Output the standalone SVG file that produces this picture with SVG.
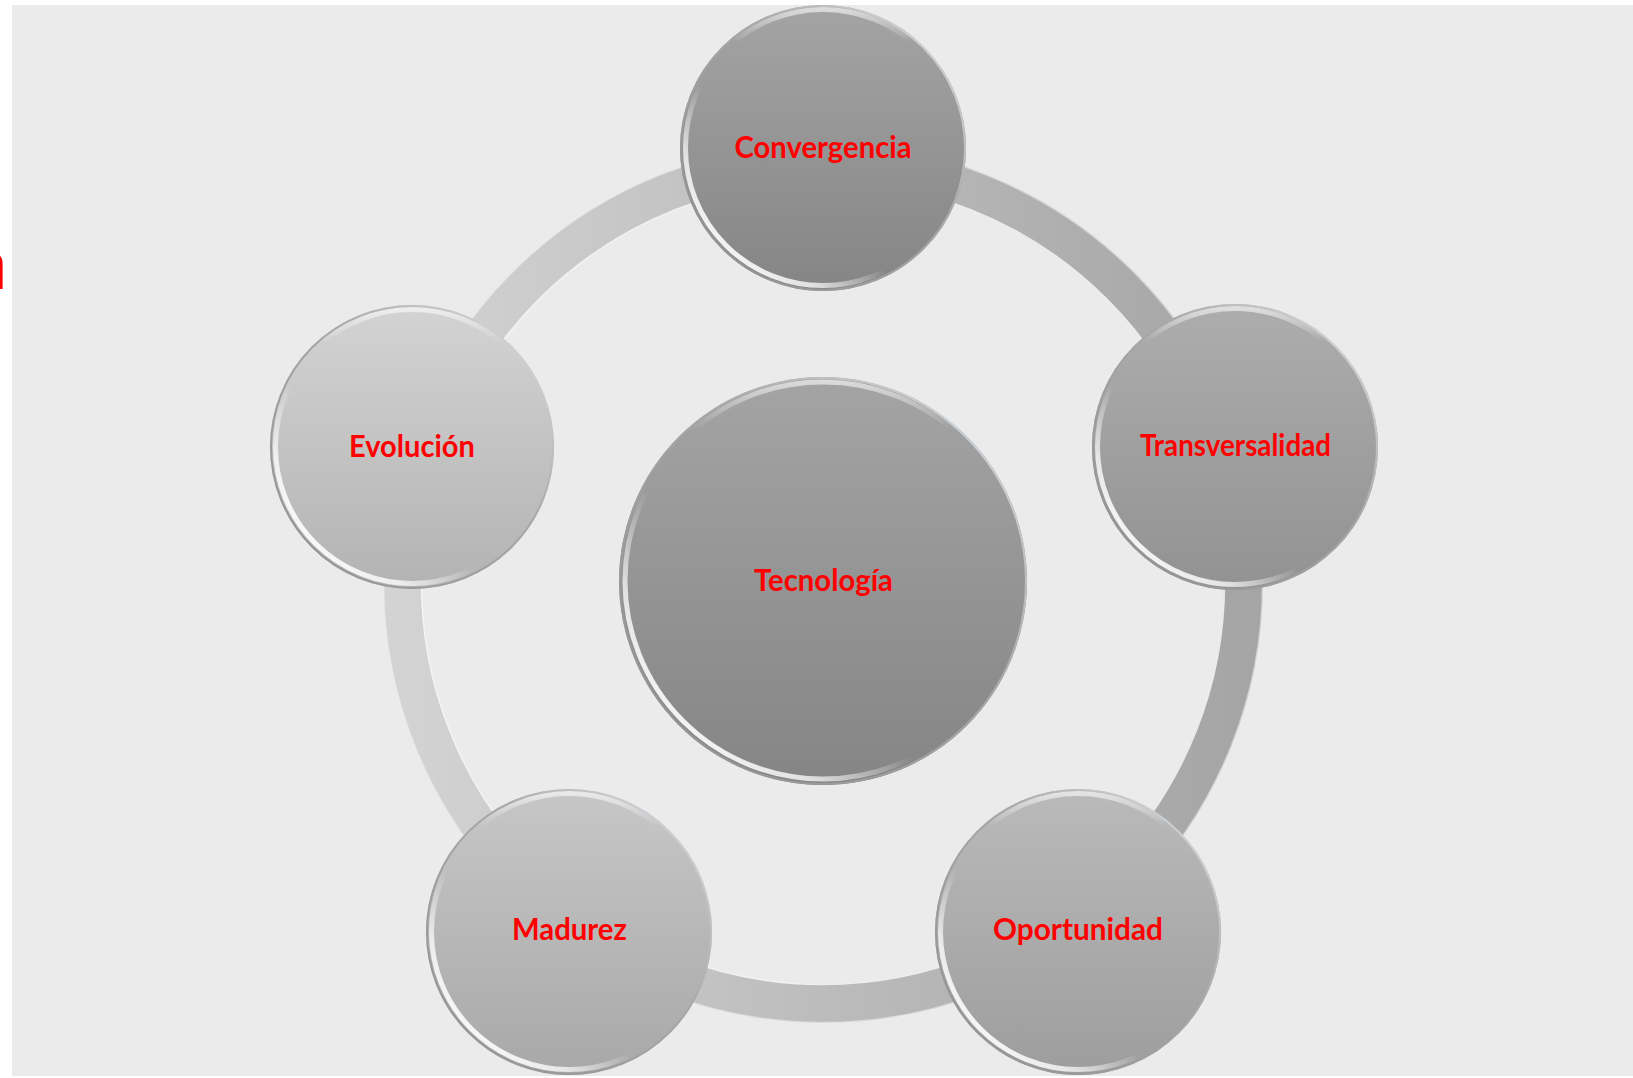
<svg xmlns="http://www.w3.org/2000/svg" width="1633" height="1078" viewBox="0 0 1633 1078">
<style>
.lbl{font-family:Lato,"Open Sans","Liberation Sans",sans-serif;font-weight:bold;font-size:30px;fill:#ff0000;text-anchor:middle}
.rimOut{fill:none;stroke:url(#edge);stroke-width:2}
.rimHi{fill:none;stroke:url(#hi);stroke-width:5}
.rimTop{fill:none;stroke:url(#hiTop);stroke-width:5}
</style>
<defs>
<linearGradient id="ringG" x1="0" y1="0" x2="1" y2="0">
<stop offset="0" stop-color="#d3d3d3"/><stop offset="1" stop-color="#a5a5a5"/>
</linearGradient>
<linearGradient id="gDark" x1="0" y1="0" x2="0" y2="1">
<stop offset="0" stop-color="#a4a4a4"/><stop offset="1" stop-color="#858585"/>
</linearGradient>
<linearGradient id="gTrans" x1="0" y1="0" x2="0" y2="1">
<stop offset="0" stop-color="#adadad"/><stop offset="1" stop-color="#929292"/>
</linearGradient>
<linearGradient id="gEvo" x1="0" y1="0" x2="0" y2="1">
<stop offset="0" stop-color="#d3d3d3"/><stop offset="1" stop-color="#b3b3b3"/>
</linearGradient>
<linearGradient id="gMad" x1="0" y1="0" x2="0" y2="1">
<stop offset="0" stop-color="#c7c7c7"/><stop offset="1" stop-color="#a8a8a8"/>
</linearGradient>
<linearGradient id="gOpo" x1="0" y1="0" x2="0" y2="1">
<stop offset="0" stop-color="#bababa"/><stop offset="1" stop-color="#9d9d9d"/>
</linearGradient>
<linearGradient id="hi" x1="0.05" y1="0.9" x2="0.5" y2="0.45">
<stop offset="0" stop-color="#ffffff" stop-opacity="1"/>
<stop offset="0.35" stop-color="#ffffff" stop-opacity="0.75"/>
<stop offset="0.7" stop-color="#ffffff" stop-opacity="0"/>
</linearGradient>
<linearGradient id="hiTop" x1="0" y1="0" x2="0" y2="1">
<stop offset="0" stop-color="#ffffff" stop-opacity="0.6"/>
<stop offset="0.12" stop-color="#ffffff" stop-opacity="0"/>
</linearGradient>
<linearGradient id="edge" x1="0" y1="1" x2="1" y2="0">
<stop offset="0" stop-color="#8f8f8f"/>
<stop offset="0.6" stop-color="#a9a9a9"/>
<stop offset="1" stop-color="#dfe6ec"/>
</linearGradient>
<clipPath id="edgeClip"><rect x="0" y="240" width="2.6" height="60"/></clipPath>
</defs>
<rect x="0" y="0" width="1633" height="1078" fill="#ffffff"/>
<rect x="12" y="5" width="1621" height="1071" fill="#ebebeb"/>
<g clip-path="url(#edgeClip)"><text x="7" y="289" font-family="Lato,'Liberation Sans',sans-serif" font-weight="bold" font-size="72" fill="#ff0000" text-anchor="end">n</text></g>
<g id="connectors">
<circle cx="823" cy="583" r="420.5" fill="none" stroke="url(#ringG)" stroke-width="39"/>
<circle cx="823" cy="583" r="401.5" fill="none" stroke="#ffffff" stroke-opacity="0.75" stroke-width="1.5"/>
<circle cx="823" cy="583" r="439.5" fill="none" stroke="#ffffff" stroke-opacity="0.45" stroke-width="1.5"/>
</g>
<g id="node-convergencia">
<circle cx="823" cy="148" r="143" fill="url(#gDark)"/>
<circle cx="823" cy="148" r="137.5" class="rimHi"/>
<circle cx="823" cy="148" r="138.5" class="rimTop"/>
<circle cx="823" cy="148" r="142" class="rimOut"/>
<text class="lbl" x="823" y="158" textLength="177" lengthAdjust="spacingAndGlyphs">Convergencia</text>
</g>
<g id="node-transversalidad">
<circle cx="1235" cy="447" r="143" fill="url(#gTrans)"/>
<circle cx="1235" cy="447" r="137.5" class="rimHi"/>
<circle cx="1235" cy="447" r="138.5" class="rimTop"/>
<circle cx="1235" cy="447" r="142" class="rimOut"/>
<text class="lbl" x="1235.5" y="456" textLength="191" lengthAdjust="spacingAndGlyphs">Transversalidad</text>
</g>
<g id="node-evolucion">
<circle cx="412" cy="447" r="142" fill="url(#gEvo)"/>
<circle cx="412" cy="447" r="136.5" class="rimHi"/>
<circle cx="412" cy="447" r="137.5" class="rimTop"/>
<circle cx="412" cy="447" r="141" class="rimOut"/>
<text class="lbl" x="412" y="457" textLength="126" lengthAdjust="spacingAndGlyphs">Evolución</text>
</g>
<g id="node-madurez">
<circle cx="569" cy="932" r="143" fill="url(#gMad)"/>
<circle cx="569" cy="932" r="137.5" class="rimHi"/>
<circle cx="569" cy="932" r="138.5" class="rimTop"/>
<circle cx="569" cy="932" r="142" class="rimOut"/>
<text class="lbl" x="569.5" y="940" textLength="115" lengthAdjust="spacingAndGlyphs">Madurez</text>
</g>
<g id="node-oportunidad">
<circle cx="1078" cy="932" r="143" fill="url(#gOpo)"/>
<circle cx="1078" cy="932" r="137.5" class="rimHi"/>
<circle cx="1078" cy="932" r="138.5" class="rimTop"/>
<circle cx="1078" cy="932" r="142" class="rimOut"/>
<text class="lbl" x="1078" y="940" textLength="170" lengthAdjust="spacingAndGlyphs">Oportunidad</text>
</g>
<g id="node-tecnologia">
<circle cx="823" cy="581" r="204" fill="url(#gDark)"/>
<circle cx="823" cy="581" r="198" class="rimHi"/>
<circle cx="823" cy="581" r="199" class="rimTop"/>
<circle cx="823" cy="581" r="203" class="rimOut"/>
<text class="lbl" x="823.5" y="591" textLength="139" lengthAdjust="spacingAndGlyphs">Tecnología</text>
</g>
</svg>
